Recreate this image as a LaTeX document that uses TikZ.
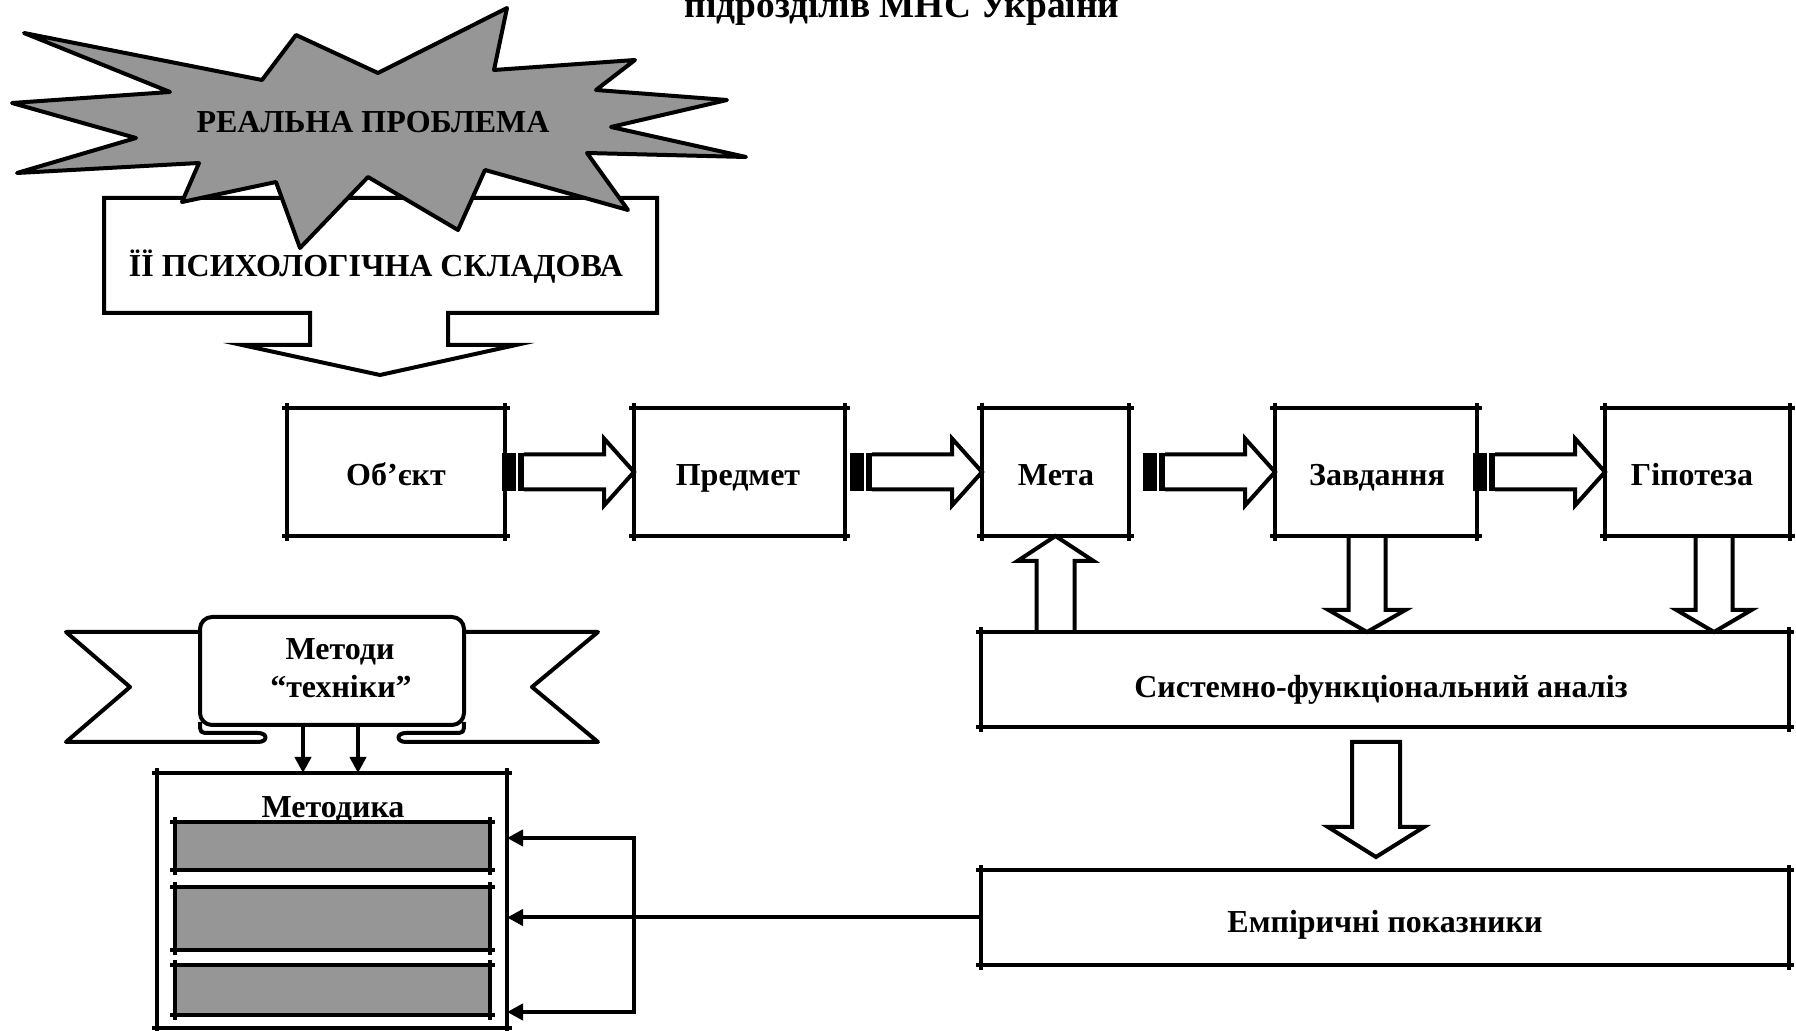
\documentclass[tikz,border=0pt]{standalone}
\usepackage{fontspec}
\setmainfont{Liberation Serif}
\usetikzlibrary{arrows.meta}
\definecolor{shade}{HTML}{969696}
\tikzset{
  frm/.style={draw, line width=2pt, outer sep=0pt, inner sep=0pt},
  fat/.style={draw, line width=2pt, line join=miter},
  thin arrow/.style={line width=2pt, line cap=rect, -{Triangle[length=8pt,width=8pt]}},
}
\newcommand{\nubs}[1]{%
  \foreach \c in {north west,north east,south west,south east}
    \draw[line width=2pt] (#1.\c) ++(-2.5pt,0) -- ++(5pt,0) (#1.\c) ++(0,-2.5pt) -- ++(0,5pt);
}
\newcommand{\stripe}[3][0pt]{%
  \fill ([xshift=#1]#2.east) ++(0,9.5pt) rectangle ++(7pt,-19pt);
  \fill ([xshift=#1+8.2pt]#2.east) ++(0,9.5pt) rectangle ++(2.8pt,-19pt);
  \draw[fat] ([xshift=#1+11pt,yshift=8.75pt]#2.east) -- ([xshift=-15pt,yshift=8.75pt]#3.west)
    -- ([xshift=-15pt,yshift=16.75pt]#3.west) -- (#3.west) -- ([xshift=-15pt,yshift=-16.75pt]#3.west)
    -- ([xshift=-15pt,yshift=-8.75pt]#3.west) -- ([xshift=#1+11pt,yshift=-8.75pt]#2.east);
}
\newcommand{\vblock}[6][]{%
  \draw[fat] ([xshift=-#4]#2) -- ([xshift=-#4,yshift=#6]#3) -- ([xshift=-#5,yshift=#6]#3) -- (#3)
    -- ([xshift=#5,yshift=#6]#3) -- ([xshift=#4,yshift=#6]#3) -- ([xshift=#4]#2) #1;
}
\begin{document}
\begin{tikzpicture}[x=0.5pt, y=-0.5pt, every node/.style={font=\bfseries\fontsize{16pt}{19pt}\selectfont}]
\useasboundingbox (0,0) rectangle (1796,1031);

\node[anchor=base, font=\bfseries\fontsize{18.7pt}{22pt}\selectfont] (ttl) at (902,17.5) {підрозділів МНС України};

\draw[fat] (104,198) -- (657,198) -- (657,313) -- (448,313) -- (448,345) -- (516,345) -- (380,375)
  -- (242,345) -- (310,345) -- (310,313) -- (104,313) -- cycle;
\node[anchor=base] (psy) at (376,277) {ЇЇ ПСИХОЛОГІЧНА СКЛАДОВА};

\filldraw[fill=shade, line width=2pt, line join=round] (24,33) -- (262,80) -- (296,35) -- (378,73)
  -- (507,8) -- (494,70) -- (635,60) -- (596,90) -- (727,100) -- (611,127) -- (746,157) -- (587,153)
  -- (628,210) -- (485,170) -- (458,230) -- (368,177) -- (300,248) -- (276,182) -- (182,202)
  -- (199,163) -- (17,173) -- (136,138) -- (12,103) -- (170,92) -- cycle;
\node[anchor=base] (real) at (373,133) {РЕАЛЬНА ПРОБЛЕМА};

\node[frm, minimum width=109pt, minimum height=64pt] (obj) at (396,472) {};
\node[frm, minimum width=105.5pt, minimum height=64pt] (pred) at (739.5,472) {};
\node[frm, minimum width=73.5pt, minimum height=64pt] (meta) at (1055.5,472) {};
\node[frm, minimum width=101pt, minimum height=64pt] (zavd) at (1376,472) {};
\node[frm, minimum width=92.5pt, minimum height=64pt] (hip) at (1697.5,472) {};
\node[anchor=base] (objt) at (396,486) {Об’єкт};
\node[anchor=base] (predt) at (738,486) {Предмет};
\node[anchor=base] (metat) at (1056,486) {Мета};
\node[anchor=base] (zavdt) at (1377,486) {Завдання};
\node[anchor=base] (hipt) at (1692,486) {Гіпотеза};
\foreach \b in {obj,pred,meta,zavd,hip} {\nubs{\b}}

\stripe[-1.6pt]{obj}{pred}
\stripe[2.5pt]{pred}{meta}
\stripe[7pt]{meta}{zavd}
\stripe[-2pt]{zavd}{hip}

\node[frm, minimum width=404pt, minimum height=47.5pt] (syst) at (1385,679.5) {};
\node[anchor=base] (systt) at (1381,698) {Системно-функціональний аналіз};
\node[frm, minimum width=404pt, minimum height=47.5pt] (emp) at (1385,917.5) {};
\node[anchor=base] (empt) at (1385,933) {Емпіричні показники};
\nubs{syst}
\nubs{emp}

\coordinate (u1) at (meta.south |- syst.north);
\vblock{u1}{meta.south}{9.5pt}{19pt}{-12.5pt}
\coordinate (d1) at ([xshift=-4.5pt]zavd.south);
\coordinate (d2) at (d1 |- syst.north);
\vblock{d1}{d2}{9.25pt}{19.25pt}{11pt}
\coordinate (h1) at ([xshift=8.25pt]hip.south);
\coordinate (h2) at (h1 |- syst.north);
\vblock{h1}{h2}{9.25pt}{18.75pt}{11pt}
\coordinate (s1) at ([xshift=-4.5pt,yshift=-7.5pt]syst.south);
\coordinate (s2) at ([xshift=-4.5pt,yshift=6.5pt]emp.north);
\vblock[-- cycle]{s1}{s2}{12pt}{24pt}{15pt}

\draw[line width=2pt, line join=round] (200,632) -- (66,632) -- (130,687) -- (66,742) -- (258,742)
  .. controls (268,742) and (268,733) .. (258,733) -- (210,733) .. controls (200,733) .. (200,722);
\draw[line width=2pt, line join=round] (464,632) -- (598,632) -- (532,687) -- (598,742) -- (406,742)
  .. controls (396,742) and (396,733) .. (406,733) -- (454,733) .. controls (464,733) .. (464,722);
\filldraw[fill=white, line width=2pt, rounded corners=6pt] (200,725) -- (200,617) -- (464,617) -- (464,725) -- cycle;
\node[anchor=base] (meth1) at (340,660) {Методи};
\node[anchor=base] (meth2) at (341,698) {“техніки”};

\node[frm, minimum width=175pt, minimum height=127.5pt] (met) at (332,900.5) {};
\node[anchor=base] (mett) at (333,818) {Методика};
\node[frm, fill=shade, minimum width=157.5pt, minimum height=24pt] (b1) at (332.5,846) {};
\node[frm, fill=shade, minimum width=157.5pt, minimum height=31.5pt] (b2) at (332.5,918.5) {};
\node[frm, fill=shade, minimum width=157.5pt, minimum height=25pt] (b3) at (332.5,990) {};
\foreach \b in {met,b1,b2,b3} {\nubs{\b}}

\coordinate (r1) at (303,725);
\coordinate (r2) at (358,725);
\draw[thin arrow] (r1) -- (r1 |- met.north);
\draw[thin arrow] (r2) -- (r2 |- met.north);

\coordinate (bt) at (634,838);
\coordinate (bb) at (634,1012);
\draw[thin arrow] (bb) -- (bt) -- (bt -| met.east);
\draw[thin arrow] (bb) -- (bb -| met.east);
\draw[thin arrow] (emp.west) -- (emp.west -| met.east);
\end{tikzpicture}
\end{document}
